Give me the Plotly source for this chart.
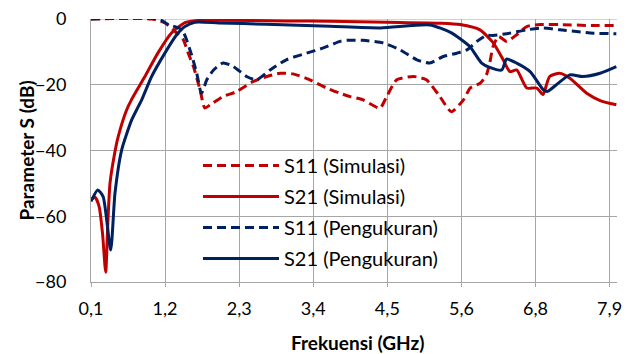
import plotly.graph_objects as go

# ---- data (frequency in GHz, S-parameters in dB) ----
tick_vals = [0.1, 1.2, 2.3, 3.4, 4.5, 5.6, 6.7, 7.8]
tick_text = ["0,1", "1,2", "2,3", "3,4", "4,5", "5,6", "6,8", "7,9"]
y_ticks = [0, -20, -40, -60, -80]

s11_sim_f = [0.1, 1.0, 1.2, 1.40, 1.47, 1.544, 1.62, 1.72, 1.79, 1.87, 2.06, 2.26, 2.51, 2.71,
             2.91, 3.10, 3.35, 3.60, 3.80, 3.95, 4.14, 4.39, 4.49, 4.64, 4.89, 5.08, 5.28,
             5.45, 5.63, 5.73, 5.88, 5.97, 6.02, 6.07, 6.15, 6.27, 6.42, 6.57, 6.77, 7.06,
             7.56, 7.90]
s11_sim_db = [0, 0, -1.2, -4.8, -6.3, -10.4, -14.4, -21.6, -27.1, -26.1, -23.6, -22.1, -19.0,
              -17.5, -16.5, -16.7, -18.5, -21.0, -22.6, -23.6, -24.6, -27.1, -23.6, -18.5,
              -17.5, -18.5, -23.6, -28.2, -24.6, -21.0, -19.5, -17.0, -13.4, -8.4, -5.3,
              -6.8, -4.8, -2.3, -1.7, -1.7, -2.0, -2.0]

s21_sim_f = [0.1, 0.16, 0.22, 0.27, 0.318, 0.35, 0.382, 0.45, 0.501, 0.63, 0.70, 0.90, 1.095,
             1.298, 1.495, 1.644, 2.0, 3.0, 3.65, 4.5, 5.3, 5.58, 5.875, 6.07, 6.22, 6.32,
             6.42, 6.57, 6.72, 6.81, 6.91, 7.06, 7.21, 7.46, 7.66, 7.90]
s21_sim_db = [-55, -54.2, -57, -65, -77, -62, -50, -41, -36, -27.6, -24.6, -17.5, -10.3,
              -4.2, -1.1, -0.5, -0.4, -0.6, -0.7, -1.0, -1.3, -1.7, -3.3, -7.2, -12.4, -16.0,
              -15.5, -21.0, -21.0, -23.0, -17.5, -16.5, -18.0, -22.6, -24.8, -26.1]

s11_meas_f = [0.1, 1.1, 1.25, 1.45, 1.57, 1.67, 1.74, 1.82, 1.92, 2.06, 2.21, 2.41, 2.56,
              2.76, 3.0, 3.30, 3.55, 3.80, 3.90, 4.14, 4.44, 4.69, 4.94, 5.13, 5.33, 5.53,
              5.68, 5.83, 5.97, 6.07, 6.32, 6.57, 6.82, 7.06, 7.31, 7.56, 7.90]
s11_meas_db = [0, 0, -1.7, -3.3, -9.4, -16.5, -22.6, -18.5, -15.5, -13.4, -14.4, -17.5,
               -18.5, -15.5, -12.4, -10.4, -8.8, -6.8, -6.5, -6.5, -7.3, -9.4, -12.4, -13.4,
               -11.4, -10.4, -9.4, -6.8, -5.0, -5.0, -4.3, -3.3, -2.7, -3.3, -3.8, -4.3, -4.5]

s21_meas_f = [0.1, 0.20, 0.28, 0.392, 0.456, 0.556, 0.704, 0.778, 0.853, 1.0, 1.199, 1.372,
              1.495, 1.644, 2.0, 2.7, 3.65, 4.4, 5.13, 5.43, 5.58, 5.73, 5.90, 6.02, 6.20,
              6.27, 6.42, 6.62, 6.82, 6.88, 7.01, 7.21, 7.40, 7.66, 7.90]
s21_meas_db = [-55.5, -52, -54, -70.3, -53, -39.8, -30.7, -27.6, -24.6, -17.5, -10.3, -4.8,
               -2.3, -1.0, -1.2, -1.6, -2.2, -2.7, -1.8, -4.0, -6.0, -8.5, -13.4, -14.7,
               -15.5, -12.2, -13.4, -16.0, -21.6, -22.0, -20.0, -17.0, -17.5, -16.5, -14.5]

RED = "#C00000"
NAVY = "#002060"
GRID = "#A6A6A6"
FONT = "Lato"

W, H = 636, 354
ML, MR, MT, MB = 91, 19, 19, 72
PW, PH = W - ML - MR, H - MT - MB

fig = go.Figure()
series = [
    ("S11 (Simulasi)", s11_sim_f, s11_sim_db, RED, "9px,5px"),
    ("S21 (Simulasi)", s21_sim_f, s21_sim_db, RED, "solid"),
    ("S11 (Pengukuran)", s11_meas_f, s11_meas_db, NAVY, "9px,5px"),
    ("S21 (Pengukuran)", s21_meas_f, s21_meas_db, NAVY, "solid"),
]
for i, (name, f, db, col, dash) in enumerate(series):
    fig.add_trace(go.Scatter(
        x=f, y=db, name=name, mode="lines", legendgroup=str(i),
        line=dict(color=col, width=3, dash=dash, shape="spline", smoothing=0.6),
    ))

fig.update_layout(
    width=W, height=H,
    margin=dict(l=ML, r=MR, t=MT, b=MB, autoexpand=False),
    paper_bgcolor="white", plot_bgcolor="white",
    font=dict(family=FONT, size=18, color="#000000"),
    showlegend=True,
    legend=dict(x=(198 - ML) / PW, y=1 - (146 - MT) / PH, xanchor="left", yanchor="top",
                bgcolor="rgba(0,0,0,0)", itemwidth=76, tracegroupgap=2,
                font=dict(family=FONT, size=20)),
)
fig.update_xaxes(
    range=[0.1, 7.91], tickvals=tick_vals, ticktext=tick_text,
    showgrid=True, gridcolor=GRID, gridwidth=1,
    showline=True, linecolor=GRID, linewidth=1,
    ticks="outside", ticklen=4, tickcolor=GRID,
    ticklabelstandoff=6, zeroline=False, automargin=False,
    tickfont=dict(size=18),
)
fig.update_yaxes(
    range=[-80, 0], tickvals=y_ticks,
    showgrid=True, gridcolor=GRID, gridwidth=1,
    showline=True, linecolor=GRID, linewidth=1,
    zeroline=False, ticks="", ticklabelstandoff=20, automargin=False,
    tickfont=dict(size=18),
)
fig.add_shape(type="line", xref="paper", yref="y", x0=0, x1=1, y0=0, y1=0,
              line=dict(color=GRID, width=1), layer="below")

# axis titles as annotations (exact placement)
fig.add_annotation(text="<b>Frekuensi (GHz)</b>", xref="paper", yref="paper",
                   x=(358 - ML) / PW, y=-(342 - (H - MB)) / PH,
                   xanchor="center", yanchor="middle", showarrow=False,
                   font=dict(family=FONT, size=19))
fig.add_annotation(text="<b>Parameter S (dB)</b>", xref="paper", yref="paper",
                   x=-(ML - 26) / PW, y=0.5, textangle=-90,
                   xanchor="center", yanchor="middle", showarrow=False,
                   font=dict(family=FONT, size=19))

fig.write_html("out.html", config={"displayModeBar": False},
               post_script="document.body.style.margin='0';")
